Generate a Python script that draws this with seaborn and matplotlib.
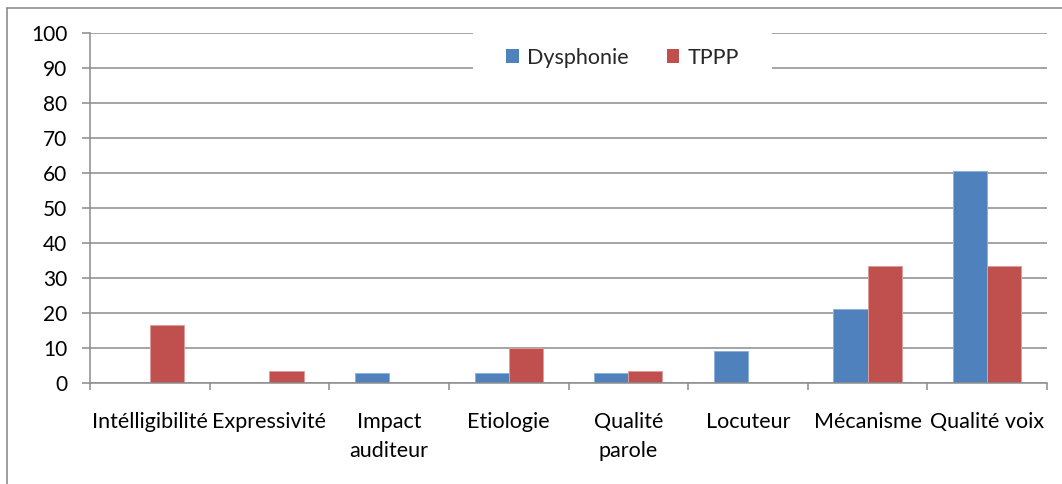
import matplotlib
matplotlib.use("Agg")
import matplotlib.pyplot as plt
from matplotlib.lines import Line2D
from matplotlib.patches import Patch
import numpy as np
import pandas as pd
import seaborn as sns

# Share of each criterion (%) per group
categories = ["Intélligibilité", "Expressivité", "Impact\nauditeur", "Etiologie",
              "Qualité\nparole", "Locuteur", "Mécanisme", "Qualité voix"]
series = ["Dysphonie", "TPPP"]
dysphonie = [0, 0, 3.0, 3.0, 3.0, 9.1, 21.2, 60.6]
tppp = [16.7, 3.3, 0, 10.0, 3.3, 0, 33.3, 33.3]
y_ticks = list(range(0, 101, 10))

colors = {"Dysphonie": "#4f81bd", "TPPP": "#c0504d"}
edges = {"Dysphonie": "#8fb0d8", "TPPP": "#e09c9a"}
grid_grey = "#8c8c8c"
label_size = 15.5

df = pd.DataFrame({
    "categorie": categories * 2,
    "serie": [series[0]] * len(categories) + [series[1]] * len(categories),
    "valeur": dysphonie + tppp,
})

sns.set_theme(style="white")
plt.rcParams["font.family"] = ["Lato", "DejaVu Sans"]

fig = plt.figure(figsize=(10.62, 4.84), dpi=100)
ax = fig.add_axes([90 / 1062, 1 - 383 / 484, 957 / 1062, 350 / 484])

sns.barplot(data=df, x="categorie", y="valeur", hue="serie", order=categories,
            hue_order=series, palette=colors, saturation=1, width=0.57, gap=0,
            ax=ax, legend=False)
for cont, name in zip(ax.containers, series):
    for bar in cont:
        bar.set_edgecolor(edges[name])
        bar.set_linewidth(0.7)

ax.set_xlim(-0.5, len(categories) - 0.5)
ax.set_ylim(0, 100)
ax.set_xlabel("")
ax.set_ylabel("")

ax.set_axisbelow(True)
ax.yaxis.grid(True, color=grid_grey, linewidth=1.1)
ax.xaxis.grid(False)
for side in ("top", "right"):
    ax.spines[side].set_visible(False)
for side in ("left", "bottom"):
    ax.spines[side].set_color(grid_grey)
    ax.spines[side].set_linewidth(1.1)

ax.set_yticks(y_ticks)
ax.set_yticklabels([str(v) for v in y_ticks])
ax.tick_params(axis="y", length=5.8, width=1.1, color=grid_grey, pad=10.5,
               labelsize=15, labelcolor="black", left=True)

ax.set_xticks(range(len(categories)))
ax.set_xticklabels(categories)
ax.set_xticks(np.arange(-0.5, len(categories), 1), minor=True)
ax.tick_params(axis="x", which="major", length=0, pad=21, labelsize=label_size,
               labelcolor="black")
ax.tick_params(axis="x", which="minor", length=5, width=1.1, color=grid_grey,
               bottom=True)
for t in ax.get_xticklabels():
    t.set_linespacing(1.55)

handles = [Patch(facecolor=colors[s], edgecolor="none") for s in series]
ax.legend(handles, series, loc="center", bbox_to_anchor=(0.5565, 0.929), ncol=2,
          frameon=True, facecolor="white", edgecolor="none", framealpha=1,
          fontsize=label_size, handlelength=0.6, handleheight=0.6, handletextpad=0.4,
          columnspacing=1.75, borderpad=1.5, borderaxespad=0)

# Chart-area frame (top and left edges)
fig.add_artist(Line2D([7 / 1062, 1], [1 - 8 / 484] * 2, transform=fig.transFigure,
                      color=grid_grey, linewidth=1.2))
fig.add_artist(Line2D([7 / 1062] * 2, [0, 1 - 8 / 484], transform=fig.transFigure,
                      color=grid_grey, linewidth=1.2))

fig.savefig("out.png", dpi=100, facecolor="white")
